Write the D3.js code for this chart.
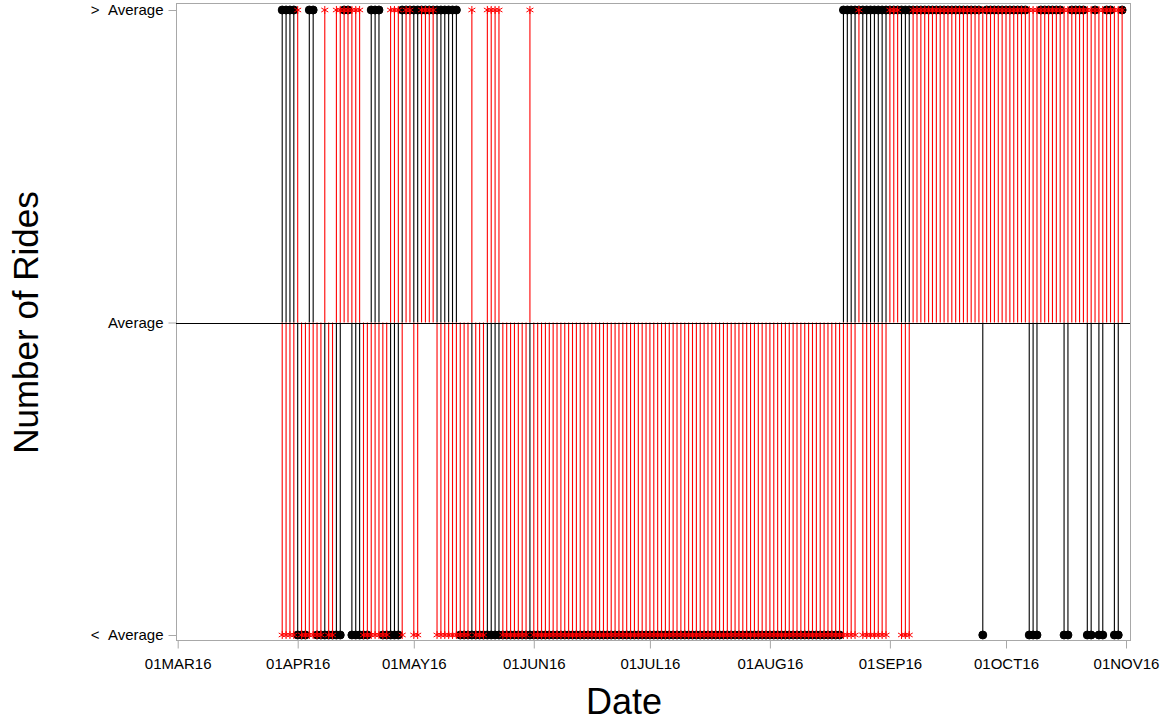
<!DOCTYPE html>
<html>
<head>
<meta charset="utf-8">
<script src="https://cdn.jsdelivr.net/npm/d3@7.9.0/dist/d3.min.js"></script>
<style>
  body { margin: 0; background: #fff; }
  svg { display: block; }
  text { font-family: "Liberation Sans", Arial, sans-serif; }
</style>
</head>
<body>
<svg width="1171" height="723"></svg>
<script>
// first day shown, one value per day after it (1 = above average, -1 = below)
const startDay = '2016-03-28';
const levelLabels = ['< Average', 'Average', '> Average'];
const tickDates = ['2016-03-01', '2016-04-01', '2016-05-01', '2016-06-01', '2016-07-01',
                   '2016-08-01', '2016-09-01', '2016-10-01', '2016-11-01'];

const blackRides = [
  1, 1, 1, 1,                                                                                       // Mar 28-31
  -1, -1, -1, 1, 1, -1, -1, -1, -1, -1, -1, -1, 1, 1, -1, -1, -1, -1, -1, 1, 1, 1, -1, -1, -1, -1, -1, 1, 1, 1,   // Apr
  1, 1, 1, 1, 1, 1, 1, 1, 1, 1, 1, 1, -1, -1, -1, -1, -1, -1, -1, -1, -1, -1, -1, -1, -1, -1, -1, -1, -1, -1, -1, // May
  -1, -1, -1, -1, -1, -1, -1, -1, -1, -1, -1, -1, -1, -1, -1, -1, -1, -1, -1, -1, -1, -1, -1, -1, -1, -1, -1, -1, -1, -1,     // Jun
  -1, -1, -1, -1, -1, -1, -1, -1, -1, -1, -1, -1, -1, -1, -1, -1, -1, -1, -1, -1, -1, -1, -1, -1, -1, -1, -1, -1, -1, -1, -1, // Jul
  -1, -1, -1, -1, -1, -1, -1, -1, -1, -1, -1, -1, -1, -1, -1, -1, -1, -1, -1, 1, 1, 1, 1, 1, 1, 1, 1, 1, 1, 1, 1,             // Aug
  1, 1, 1, 1, 1, 1, 1, 1, 1, 1, 1, 1, 1, 1, 1, 1, 1, 1, 1, 1, 1, 1, 1, 1, -1, 1, 1, 1, 1, 1,                                  // Sep
  1, 1, 1, 1, 1, 1, -1, -1, -1, 1, 1, 1, 1, 1, 1, -1, -1, 1, 1, 1, 1, -1, -1, 1, -1, -1, 1, 1, -1, -1, 1                      // Oct
];

const redRides = [
  -1, -1, -1, -1,
  1, -1, -1, -1, -1, -1, -1, 1, -1, -1, 1, 1, 1, 1, 1, 1, 1, -1, -1, -1, -1, -1, -1, -1, 1, 1, 1, -1, 1, 1,
  -1, -1, 1, 1, 1, 1, -1, -1, -1, -1, -1, -1, -1, -1, -1, 1, -1, -1, -1, 1, 1, 1, 1, -1, -1, -1, -1, -1, -1, -1, 1,
  -1, -1, -1, -1, -1, -1, -1, -1, -1, -1, -1, -1, -1, -1, -1, -1, -1, -1, -1, -1, -1, -1, -1, -1, -1, -1, -1, -1, -1, -1,
  -1, -1, -1, -1, -1, -1, -1, -1, -1, -1, -1, -1, -1, -1, -1, -1, -1, -1, -1, -1, -1, -1, -1, -1, -1, -1, -1, -1, -1, -1, -1,
  -1, -1, -1, -1, -1, -1, -1, -1, -1, -1, -1, -1, -1, -1, -1, -1, -1, -1, -1, -1, -1, -1, -1, 1, -1, -1, -1, -1, -1, -1, -1,
  1, 1, 1, -1, -1, -1, 1, 1, 1, 1, 1, 1, 1, 1, 1, 1, 1, 1, 1, 1, 1, 1, 1, 1, 1, 1, 1, 1, 1, 1,
  1, 1, 1, 1, 1, 1, 1, 1, 1, 1, 1, 1, 1, 1, 1, 1, 1, 1, 1, 1, 1, 1, 1, 1, 1, 1, 1, 1, 1, 1, 1
];

const parse = d3.utcParse('%Y-%m-%d');
const fmt = d => d3.utcFormat('%d%b%y')(d).toUpperCase();
const day0 = parse(startDay);
const days = blackRides.map((_, i) => d3.utcDay.offset(day0, i));

const svg = d3.select('svg');
const plotL = 176, plotR = 1130, plotT = 3, plotB = 640;

const x = d3.scaleUtc()
  .domain([parse(tickDates[0]), parse(tickDates[tickDates.length - 1])])
  .range([177.7, 1126]);
const y = d3.scaleLinear().domain([-1, 1]).range([635, 10]);

// frame
svg.append('rect')
  .attr('x', plotL + 0.5).attr('y', plotT + 0.5)
  .attr('width', plotR - plotL).attr('height', plotB - plotT)
  .attr('fill', 'none').attr('stroke', '#a8a8a8');

// axes
const xAxis = svg.append('g')
  .attr('transform', `translate(0,${plotB + 0.5})`)
  .call(d3.axisBottom(x).tickValues(tickDates.map(parse)).tickFormat(fmt).tickSize(8).tickSizeOuter(0));
const yAxis = svg.append('g')
  .attr('transform', `translate(${plotL + 0.5},0)`)
  .call(d3.axisLeft(y).tickValues([-1, 0, 1]).tickFormat(v => levelLabels[v + 1])
    .tickSize(8).tickPadding(5).tickSizeOuter(0));
[xAxis, yAxis].forEach(g => {
  g.select('.domain').remove();
  g.selectAll('line').attr('stroke', '#a8a8a8');
  g.selectAll('text').attr('fill', '#000').style('font-size', '15px')
    .style('font-family', '"Liberation Sans", Arial, sans-serif');
});
xAxis.selectAll('text').attr('dy', '1.15em');
yAxis.selectAll('text').style('word-spacing', '5px');

// needles: the red group is drawn over the black one, so a black needle only
// shows on days where the two groups point different ways
function drawNeedles(vals, color, keep) {
  svg.append('g')
    .selectAll('line').data(vals.map((v, i) => ({ v, i })).filter(keep)).join('line')
    .attr('x1', d => x(days[d.i])).attr('x2', d => x(days[d.i]))
    .attr('y1', y(0)).attr('y2', d => y(d.v))
    .attr('stroke', color).attr('stroke-width', 1.1);
}
function drawMarkers(vals, color, marker, fill) {
  svg.append('g').selectAll('path').data(vals).join('path')
    .attr('transform', (v, i) => `translate(${x(days[i])},${y(v)})`)
    .attr('d', marker)
    .attr('fill', fill).attr('stroke', color);
}
drawNeedles(blackRides, '#000000', d => d.v !== redRides[d.i]);
drawMarkers(blackRides, '#000000', d3.symbol(d3.symbolCircle, 50)(), '#000000');
drawNeedles(redRides, '#ff0000', () => true);
drawMarkers(redRides, '#ff0000', d3.symbol(d3.symbolAsterisk, 45)(), 'none');

// baseline
svg.append('line')
  .attr('x1', plotL).attr('x2', plotR)
  .attr('y1', Math.round(y(0)) + 0.5).attr('y2', Math.round(y(0)) + 0.5)
  .attr('stroke', '#000');

// axis titles
svg.append('text')
  .attr('x', 624).attr('y', 714)
  .attr('text-anchor', 'middle').style('font-size', '36px')
  .text('Date');
svg.append('text')
  .attr('transform', `translate(38,${y(0)}) rotate(-90)`)
  .attr('text-anchor', 'middle').style('font-size', '35px')
  .text('Number of Rides');
</script>
</body>
</html>
